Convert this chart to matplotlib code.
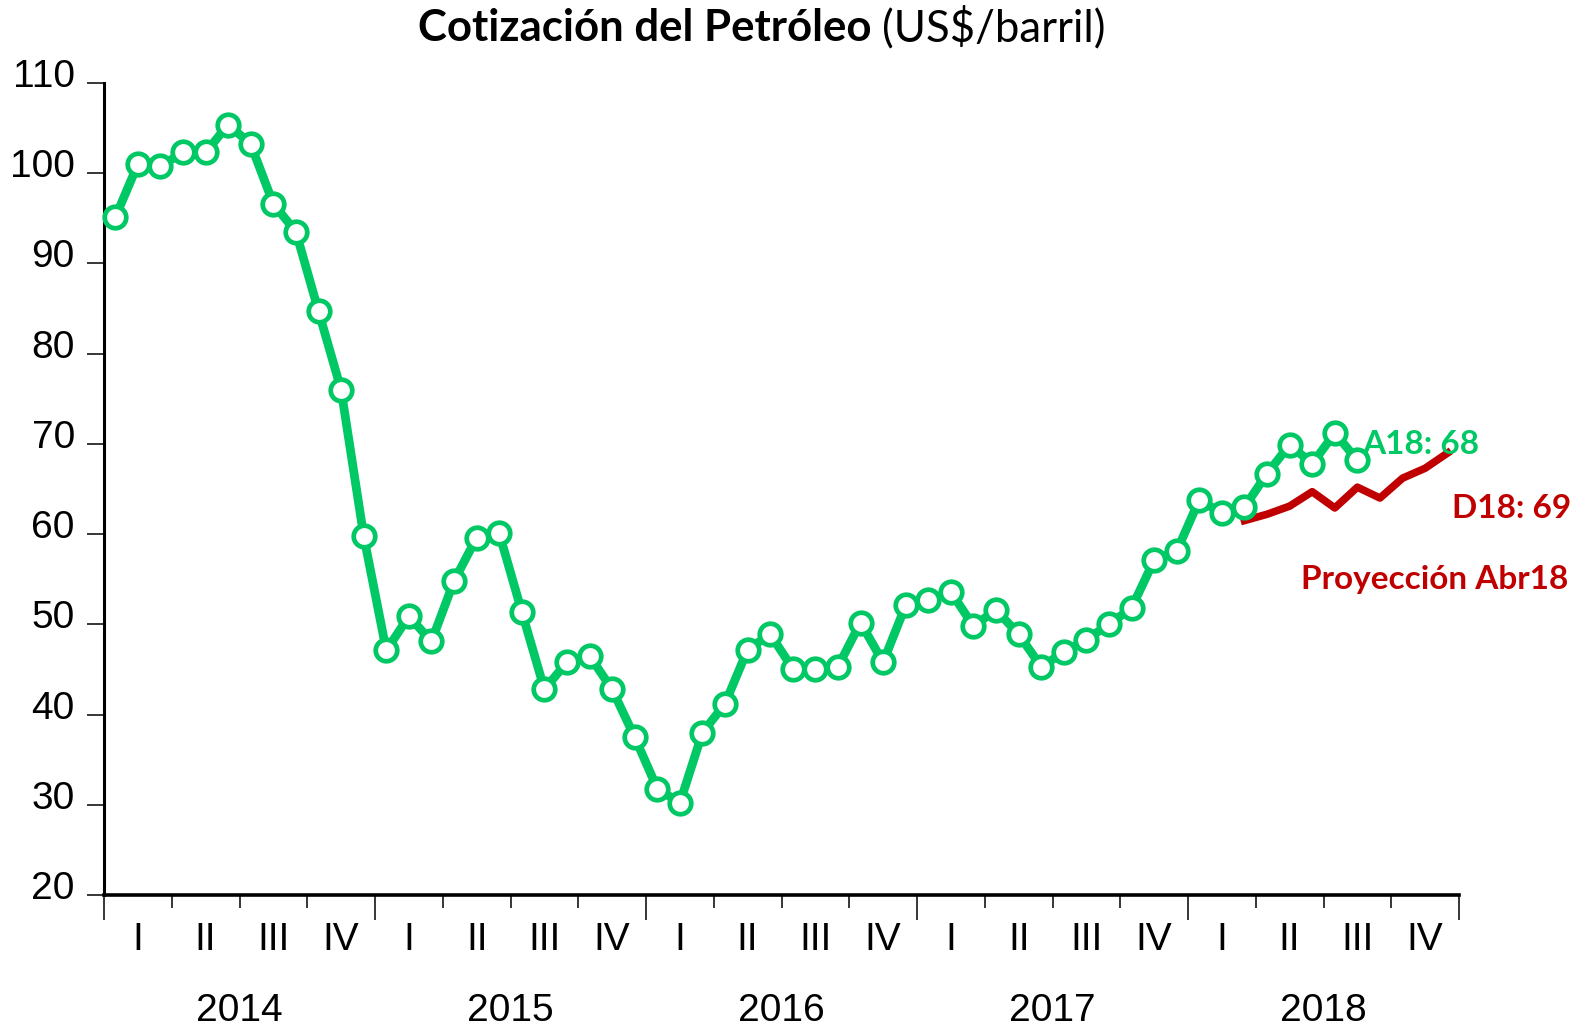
import matplotlib.pyplot as plt
import numpy as np
from matplotlib.transforms import ScaledTranslation, blended_transform_factory

# monthly average, Jan 2014 - Aug 2018
precio = [
    95.1, 101.0, 100.8, 102.3, 102.3, 105.4, 103.2, 96.6, 93.5, 84.7, 76.0, 59.8,
    47.1, 50.9, 48.1, 54.8, 59.6, 60.1, 51.4, 42.8, 45.8, 46.5, 42.8, 37.5,
    31.8, 30.2, 38.0, 41.2, 47.2, 48.9, 45.1, 45.0, 45.3, 50.2, 45.8, 52.1,
    52.7, 53.6, 49.8, 51.6, 48.9, 45.3, 46.9, 48.3, 50.0, 51.8, 57.1, 58.1,
    63.8, 62.3, 63.0, 66.7, 69.9, 67.8, 71.2, 68.2,
]
# projection (Abr18), Mar 2018 - Dec 2018
proy_inicio = 50
proyeccion = [61.5, 62.2, 63.1, 64.7, 62.9, 65.2, 64.0, 66.2, 67.3, 69.0]

anios = ["2014", "2015", "2016", "2017", "2018"]
trimestres = ["I", "II", "III", "IV"]
y_ticks = [20, 30, 40, 50, 60, 70, 80, 90, 100, 110]

VERDE = "#00C864"
ROJO = "#C00000"
SANS = ["Liberation Sans", "DejaVu Sans"]
TITLE_FONT = ["Lato", "DejaVu Sans"]

W, H = 1584, 1030
fig = plt.figure(figsize=(W / 100, H / 100), dpi=100)
ax = fig.add_axes([104 / W, 1 - 895 / H, (1459 - 104) / W, (895 - 83) / H])

n_meses = len(anios) * 12
x = np.arange(len(precio)) + 0.5
ax.plot(x, precio, color=VERDE, lw=6.3, marker="o", ms=15.5,
        mfc="white", mec=VERDE, mew=3.4, zorder=3, clip_on=False)
xp = np.arange(len(proyeccion)) + proy_inicio + 0.5
ax.plot(xp, proyeccion, color=ROJO, lw=5.5, zorder=2, clip_on=False)

ax.set_xlim(0, n_meses)
ax.set_ylim(y_ticks[0], y_ticks[-1])

for s in ["top", "right"]:
    ax.spines[s].set_visible(False)
ax.spines["left"].set_linewidth(2.2)
ax.spines["bottom"].set_linewidth(2.6)

ax.set_yticks(y_ticks)
ax.set_yticklabels([str(v) for v in y_ticks], fontsize=28, family=SANS)
ax.tick_params(axis="y", direction="out", length=12, width=1.1, pad=9)
shift = ScaledTranslation(0, 0.10, fig.dpi_scale_trans)
for lbl in ax.get_yticklabels():
    lbl.set_transform(lbl.get_transform() + shift)

ax.set_xticks(np.arange(0, n_meses + 1, 12))
ax.set_xticks(np.arange(0, n_meses + 1, 3), minor=True)
ax.set_xticklabels([])
ax.tick_params(axis="x", which="major", direction="out", length=18, width=1.1)
ax.tick_params(axis="x", which="minor", direction="out", length=9, width=1.1)

tr = blended_transform_factory(ax.transData, ax.transAxes)
for i, anio in enumerate(anios):
    for j, q in enumerate(trimestres):
        ax.text(i * 12 + j * 3 + 1.5, -0.055, q, transform=tr, ha="center",
                va="center", fontsize=28, family=SANS)
    ax.text(i * 12 + 6, -0.143, anio, transform=tr, ha="center",
            va="center", fontsize=28, family=SANS)

# title
fig.text(872 / W, 1 - 28 / H, "Cotización del Petróleo", ha="right", va="center",
         fontsize=31.5, fontweight="bold", family=TITLE_FONT)
fig.text(882 / W, 1 - 28 / H, "(US$/barril)", ha="left", va="center",
         fontsize=31.5, family=TITLE_FONT)

# annotations
fig.text(1362 / W, 1 - 444 / H, f"A18: {precio[-1]:.0f}", ha="left", va="center",
         fontsize=24, fontweight="bold", color=VERDE, family=TITLE_FONT, zorder=5)
fig.text(1571 / W, 1 - 508 / H, f"D18: {proyeccion[-1]:.0f}", ha="right", va="center",
         fontsize=24, fontweight="bold", color=ROJO, family=TITLE_FONT)
fig.text(1568 / W, 1 - 580 / H, "Proyección Abr18", ha="right", va="center",
         fontsize=24, fontweight="bold", color=ROJO, family=TITLE_FONT)

fig.savefig("out.png", dpi=100)
